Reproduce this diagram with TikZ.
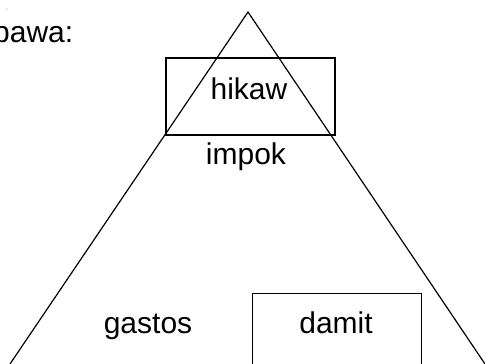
\documentclass[tikz,border=0pt]{standalone}
\usepackage{fontspec}
\setmainfont{Liberation Sans}
\begin{document}
\begin{tikzpicture}[x=1pt,y=-1pt,
  lbl/.style={font=\fontsize{30}{35}\selectfont, inner sep=0pt, anchor=base},
  ln/.style={line width=1.2pt, black}]
\useasboundingbox (0,0) rectangle (485,364);
\begin{scope}
\clip (0,0) rectangle (485,364);
\coordinate (apex) at (248,12);
\coordinate (bl) at (10,364);
\coordinate (br) at (485,364);
\draw[ln] (bl) -- (apex) -- (br);
\node[ln, draw, minimum width=169pt, minimum height=77pt, inner sep=0pt] (box1) at (250.5,96.5) {};
\node[ln, draw, minimum width=169pt, minimum height=100pt, inner sep=0pt, anchor=north west] (box2) at (252,293) {};
\node[lbl] (hikaw) at (249,99) {hikaw};
\node[lbl] (impok) at (246,164) {impok};
\node[lbl] (gastos) at (148,333) {gastos};
\node[lbl] (damit) at (336,333) {damit};
\node[lbl, anchor=base west] (pawa) at (-7,42) {pawa:};
\fill[black!70] (7,9) circle (0.5pt);
\end{scope}
\end{tikzpicture}
\end{document}
